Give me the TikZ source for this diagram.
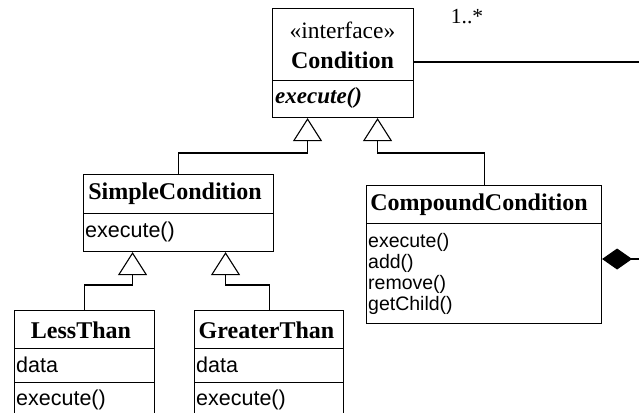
\documentclass[tikz,border=0pt]{standalone}
\usepackage{fontspec}
\setmainfont{Liberation Serif}
\newfontfamily\opfont{Liberation Sans}
\usetikzlibrary{arrows.meta}

\tikzset{
  box/.style={draw, line width=1.1pt, rectangle, inner sep=0pt, anchor=north west},
  cname/.style={inner sep=0pt, font=\fontsize{24}{28}\selectfont\bfseries},
  stereo/.style={inner sep=0pt, font=\fontsize{23.5}{28}\selectfont},
  absop/.style={inner sep=0pt, anchor=west, font=\fontsize{23}{28}\selectfont\bfseries\itshape},
  op/.style={inner sep=0pt, anchor=west, font=\opfont\fontsize{21.5}{25}\selectfont},
  opsmall/.style={inner sep=0pt, anchor=west, font=\opfont\fontsize{19.5}{22}\selectfont},
  mult/.style={inner sep=0pt, font=\fontsize{21.5}{25}\selectfont},
  gen/.style={line width=1.1pt, -{Triangle[open, length=23pt, width=29pt]}},
  comp/.style={line width=1.1pt, -{Diamond[length=30pt, width=21pt, fill=black]}}
}

\begin{document}
\begin{tikzpicture}[x=1pt, y=-1pt, line join=miter]
\useasboundingbox (0,0) rectangle (639,412);
\clip (0,0) rectangle (639,412);

% interface Condition
\node[box, minimum width=141pt, minimum height=72pt] (cond-h) at (272,8) {};
\node[box, minimum width=141pt, minimum height=37pt] (cond-m) at (272,80) {};
\node[stereo] (cond-st) at (342.5,30) {«interface»};
\node[cname] (cond-n) at (342.5,60) {Condition};
\node[absop] (cond-op) at (275,98) {execute()};

% SimpleCondition
\node[box, minimum width=190pt, minimum height=39pt] (simp-h) at (83,174) {};
\node[box, minimum width=190pt, minimum height=38pt] (simp-m) at (83,213) {};
\node[cname] (simp-n) at (175,194) {SimpleCondition};
\node[op] (simp-op) at (85,232) {execute()};

% CompoundCondition
\node[box, minimum width=235pt, minimum height=38pt] (comp-h) at (366,185) {};
\node[box, minimum width=235pt, minimum height=100pt] (comp-m) at (366,223) {};
\node[cname] (comp-n) at (479,205) {CompoundCondition};
\node[opsmall] (comp-op1) at (368,242) {execute()};
\node[opsmall] (comp-op2) at (368,263) {add()};
\node[opsmall] (comp-op3) at (368,284) {remove()};
\node[opsmall] (comp-op4) at (368,305) {getChild()};

% LessThan
\node[box, minimum width=140pt, minimum height=38pt] (less-h) at (14,310) {};
\node[box, minimum width=140pt, minimum height=34pt] (less-a) at (14,348) {};
\node[box, minimum width=140pt, minimum height=50pt] (less-m) at (14,382) {};
\node[cname] (less-n) at (81,330) {LessThan};
\node[op] (less-at) at (16,365) {data};
\node[op] (less-op) at (16,400) {execute()};

% GreaterThan
\node[box, minimum width=149pt, minimum height=38pt] (grea-h) at (194,310) {};
\node[box, minimum width=149pt, minimum height=34pt] (grea-a) at (194,348) {};
\node[box, minimum width=149pt, minimum height=50pt] (grea-m) at (194,382) {};
\node[cname] (grea-n) at (266.5,330) {GreaterThan};
\node[op] (grea-at) at (196,365) {data};
\node[op] (grea-op) at (196,400) {execute()};

% generalisations
\draw[gen] (simp-h.north) -- ++(0,-21) -| ([xshift=-35.5pt]cond-m.south);
\draw[gen] (comp-h.north) -- ++(0,-32) -| ([xshift=34.5pt]cond-m.south);
\draw[gen] (less-h.north) -- ++(0,-25) -| ([xshift=-46pt]simp-m.south);
\draw[gen] (grea-h.north) -- ++(0,-25) -| ([xshift=47pt]simp-m.south);

% composition of children
\coordinate (agg-top) at (639,62);
\coordinate (agg-bot) at (639,259);
\draw[line width=1.1pt] (cond-h.east |- agg-top) -- (agg-top);
\draw[comp] (agg-bot) -- (comp-m.east |- agg-bot);
\node[mult] (mult-n) at (467,17) {1..*};
\end{tikzpicture}
\end{document}
